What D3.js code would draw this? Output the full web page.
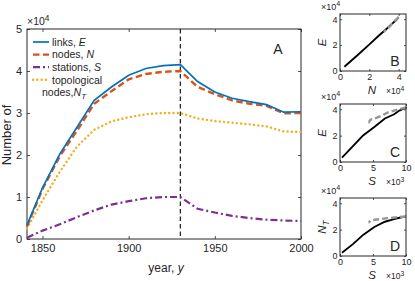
<!DOCTYPE html>
<html><head><meta charset="utf-8">
<script src="https://cdn.jsdelivr.net/npm/d3@7"></script>
<style>
body{margin:0;background:#fff;}
svg{display:block;font-family:"Liberation Sans",Arial,sans-serif;}
</style></head><body>
<svg id="c" width="415" height="281"></svg>
<script>
// ---- data (values ×10^4) ----
const years    = [1841,1850,1860,1870,1880,1890,1900,1910,1920,1930,1940,1950,1960,1970,1980,1990,2000];
const links    = [0.33,1.22,2.02,2.66,3.30,3.62,3.90,4.06,4.13,4.15,3.75,3.50,3.35,3.27,3.20,3.02,3.03];
const nodes    = [0.30,1.19,1.97,2.58,3.22,3.52,3.80,3.93,3.98,4.00,3.62,3.45,3.30,3.22,3.17,2.99,3.00];
const topo     = [0.25,0.92,1.60,2.20,2.60,2.80,2.90,2.97,3.00,3.00,2.87,2.81,2.77,2.73,2.68,2.56,2.55];
const stations = [0.03,0.20,0.35,0.52,0.68,0.82,0.90,0.97,1.00,1.00,0.72,0.63,0.55,0.50,0.46,0.44,0.43];
const splitYear = 1930;
const xTicks = [1850,1900,1950,2000];
const yTicks = [0,1,2,3,4,5];
const insetTicksN = [0,2,4];
const insetTicksS = [0,5,10];
const insetTicksY = [0,2,4];

const svg = d3.select("#c");
const axisCol = "#262626";

// ---- main panel ----
const M = {l:27, r:301, t:29, b:239};
const x = d3.scaleLinear().domain([1841,2000]).range([M.l,M.r]);
const y = d3.scaleLinear().domain([0,5]).range([M.b,M.t]);

function boxAxes(g, xs, ys, xt, yt, tl, fs, pad){
  const [x0,x1]=xs.range(), [y0,y1]=ys.range();
  const bottom = d3.axisBottom(xs).tickValues(xt).tickSize(-tl).tickPadding(pad).tickFormat(d3.format("d"));
  const left = d3.axisLeft(ys).tickValues(yt).tickSize(-tl).tickPadding(pad).tickFormat(d3.format("d"));
  const top = d3.axisTop(xs).tickValues(xt).tickSize(-tl).tickFormat("");
  const right = d3.axisRight(ys).tickValues(yt).tickSize(-tl).tickFormat("");
  const ga = g.append("g");
  ga.append("g").attr("transform",`translate(0,${y0})`).call(bottom);
  ga.append("g").attr("transform",`translate(${x0},0)`).call(left);
  ga.append("g").attr("transform",`translate(0,${y1})`).call(top);
  ga.append("g").attr("transform",`translate(${x1},0)`).call(right);
  ga.selectAll(".domain").remove();
  ga.selectAll("line").attr("stroke",axisCol).attr("stroke-width",0.8);
  ga.selectAll("text").attr("fill",axisCol).style("font-size",fs+"px").style("font-family","Liberation Sans, Arial, sans-serif");
  g.append("rect").attr("x",x0).attr("y",y1).attr("width",x1-x0).attr("height",y0-y1)
    .attr("fill","none").attr("stroke",axisCol).attr("stroke-width",1);
  return ga;
}

const gm = svg.append("g");
boxAxes(gm, x, y, xTicks, yTicks, 3, 11, 5);

// lines
const line = (arr)=>d3.line().x((d,i)=>x(years[i])).y(d=>y(d))(arr);
gm.append("line").attr("x1",x(splitYear)).attr("x2",x(splitYear)).attr("y1",y.range()[1]).attr("y2",y.range()[0])
  .attr("stroke","#262626").attr("stroke-width",1.3).attr("stroke-dasharray","4.5,3");
const series = [
  {name:"stations", v:stations, c:"#7E2F8E", dash:"7,3,2,3", w:2.2, cap:"butt"},
  {name:"topo", v:topo, c:"#EDB120", dash:"0.1,4.2", w:2.4, cap:"round"},
  {name:"nodes", v:nodes, c:"#D95319", dash:"6.5,3.5", w:2.4, cap:"butt"},
  {name:"links", v:links, c:"#0072BD", dash:null, w:1.7, cap:"butt"}
];
series.forEach(s=>{
  gm.append("path").attr("d",line(s.v)).attr("fill","none").attr("stroke",s.c)
    .attr("stroke-width",s.w).attr("stroke-dasharray",s.dash).attr("stroke-linecap",s.cap);
});

function expo(g, xx, yy, base, e, fs){
  const t = g.append("text").attr("x",xx).attr("y",yy).attr("fill",axisCol).style("font-size",fs+"px");
  t.append("tspan").text("×"+base);
  t.append("tspan").attr("dy",-fs*0.4).style("font-size",(fs*0.8)+"px").text(e);
}
expo(svg, 27, 25, "10", "4", 10.5);

// legend
const leg = [
  {c:"#0072BD", dash:null, w:1.7, cap:"butt", t:"links,  ", it:"E"},
  {c:"#D95319", dash:"6.5,3.5", w:2.4, cap:"butt", t:"nodes,  ", it:"N"},
  {c:"#7E2F8E", dash:"7,3,2,3", w:2.2, cap:"butt", t:"stations,  ", it:"S"},
  {c:"#EDB120", dash:"0.1,4.2", w:2.4, cap:"round", t:"topological", it:""}
];
leg.forEach((d,i)=>{
  const yy = 42 + i*12.6;
  svg.append("line").attr("x1",33).attr("x2",49).attr("y1",yy).attr("y2",yy)
    .attr("stroke",d.c).attr("stroke-width",d.w).attr("stroke-dasharray",d.dash).attr("stroke-linecap",d.cap);
  const t = svg.append("text").attr("x",52).attr("y",yy+3.8).attr("fill",axisCol).style("font-size","10.5px");
  t.append("tspan").text(d.t);
  if(d.it) t.append("tspan").style("font-style","italic").text(d.it);
});
{
  const t = svg.append("text").attr("x",42).attr("y",95.5).attr("fill",axisCol).style("font-size","10.5px");
  t.append("tspan").text("nodes,");
  t.append("tspan").style("font-style","italic").text("N");
  t.append("tspan").style("font-style","italic").style("font-size","8px").attr("dy",3).text("T");
}
svg.append("text").attr("x",278).attr("y",54).attr("text-anchor","middle").attr("fill",axisCol).style("font-size","14px").text("A");

{
  const t = svg.append("text").attr("x",166).attr("y",272).attr("text-anchor","middle").attr("fill",axisCol).style("font-size","12px");
  t.append("tspan").text("year,  ");
  t.append("tspan").style("font-style","italic").text("y");
}
svg.append("text").attr("transform","translate(10.5,135) rotate(-90)").attr("text-anchor","middle")
  .attr("fill",axisCol).style("font-size","13px").text("Number of");

// ---- insets ----
const idxSplit = years.indexOf(splitYear);
function inset(top, bottom, xv, yv, xdom, xt, xlab, xexp, ylab, ysub, letter){
  const xs = d3.scaleLinear().domain(xdom).range([340,406]);
  const ys = d3.scaleLinear().domain([0,4.4]).range([bottom,top]);
  const g = svg.append("g");
  const pre = yv.map((d,i)=>i<=idxSplit?d:null);
  const post = yv.map((d,i)=>i>=idxSplit?d:null);
  const lineDef = d3.line().defined(d=>d!=null).x((d,i)=>xs(xv[i])).y(d=>ys(d));
  g.append("path").attr("d",lineDef(pre)).attr("fill","none").attr("stroke","#000").attr("stroke-width",1.9);
  g.append("path").attr("d",lineDef(post)).attr("fill","none").attr("stroke","#969696").attr("stroke-width",2.4).attr("stroke-dasharray","6,3");
  boxAxes(g, xs, ys, xt, insetTicksY, 2, 9, 2.5);
  g.append("text").attr("x",395).attr("y",bottom-5).attr("text-anchor","middle").attr("fill",axisCol).style("font-size","14px").text(letter);
  expo(g, 321, top-4, "10", "4", 9);
  g.append("text").attr("x",372).attr("y",bottom+23).attr("text-anchor","middle").attr("fill",axisCol).style("font-size","11.5px").style("font-style","italic").text(xlab);
  expo(g, 386, bottom+23, "10", xexp, 8.5);
  const yl = g.append("text").attr("transform",`translate(326,${(top+bottom)/2}) rotate(-90)`).attr("text-anchor","middle").attr("fill",axisCol).style("font-size","11.5px").style("font-style","italic");
  yl.append("tspan").text(ylab);
  if(ysub) yl.append("tspan").attr("dy",3).style("font-size","8.5px").text(ysub);
}
inset(14, 71, nodes, links, [0,4.5], insetTicksN, "N", "4", "E", "", "B");
inset(104, 162, stations.map(d=>d*10), links, [0,10], insetTicksS, "S", "3", "E", "", "C");
inset(198, 256, stations.map(d=>d*10), topo, [0,10], insetTicksS, "S", "3", "N", "T", "D");
</script>
</body></html>
